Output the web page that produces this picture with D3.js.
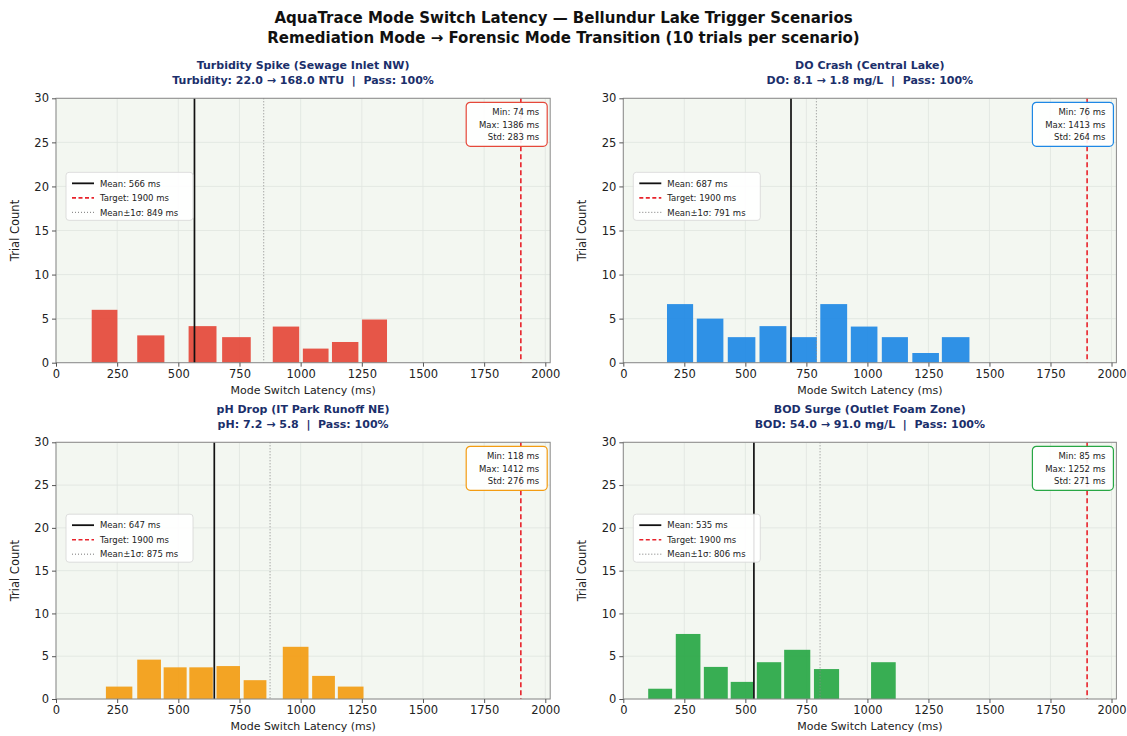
<!DOCTYPE html>
<html>
<head>
<meta charset="utf-8">
<script src="https://cdn.jsdelivr.net/npm/d3@7"></script>
<style>
  html, body { margin: 0; padding: 0; background: #fff; }
  svg { display: block; font-family: "DejaVu Sans", sans-serif; }
  svg text { white-space: pre; }
</style>
</head>
<body>
<svg id="fig" width="1127" height="736"></svg>
<script>
// ---- Data ----
const mainTitle = "AquaTrace Mode Switch Latency \u2014 Bellundur Lake Trigger Scenarios";
const mainSubtitle = "Remediation Mode \u2192 Forensic Mode Transition (10 trials per scenario)";

const scenarioNames = [
  "Turbidity Spike (Sewage Inlet NW)",
  "DO Crash (Central Lake)",
  "pH Drop (IT Park Runoff NE)",
  "BOD Surge (Outlet Foam Zone)"
];
const scenarioDetails = [
  "Turbidity: 22.0 \u2192 168.0 NTU  |  Pass: 100%",
  "DO: 8.1 \u2192 1.8 mg/L  |  Pass: 100%",
  "pH: 7.2 \u2192 5.8  |  Pass: 100%",
  "BOD: 54.0 \u2192 91.0 mg/L  |  Pass: 100%"
];
const scenarioColors = ["#e5483a", "#1e88e5", "#f39c12", "#28a745"];

// histogram bins (ms) and trial counts per scenario
const turbidityBinLo = [146, 332, 542, 679, 886, 1009, 1128, 1251];
const turbidityBinHi = [251, 443, 656, 796, 994, 1114, 1236, 1353];
const turbidityCounts = [6.0, 3.1, 4.15, 2.9, 4.1, 1.6, 2.35, 4.9];

const doBinLo = [179, 301, 428, 558, 683, 807, 932, 1059, 1184, 1305];
const doBinHi = [286, 410, 541, 668, 793, 917, 1041, 1166, 1293, 1418];
const doCounts = [6.65, 5.0, 2.9, 4.15, 2.9, 6.65, 4.1, 2.9, 1.1, 2.9];

const phBinLo = [204, 332, 440, 545, 656, 767, 927, 1047, 1152];
const phBinHi = [312, 429, 534, 641, 752, 860, 1032, 1140, 1257];
const phCounts = [1.45, 4.6, 3.7, 3.7, 3.85, 2.2, 6.1, 2.7, 1.45];

const bodBinLo = [102, 215, 330, 440, 547, 659, 781, 1015];
const bodBinHi = [200, 316, 428, 532, 647, 766, 884, 1116];
const bodCounts = [1.2, 7.6, 3.75, 2.0, 4.3, 5.75, 3.5, 4.3];

// summary statistics (ms)
const meanLatency = [566, 687, 647, 535];
const sigmaLatency = [849, 791, 875, 806];
const minLatency = [74, 76, 118, 85];
const maxLatency = [1386, 1413, 1412, 1252];
const stdLatency = [283, 264, 276, 271];
const targetLatency = 1900;

const xTicks = [0, 250, 500, 750, 1000, 1250, 1500, 1750, 2000];
const yTicks = [0, 5, 10, 15, 20, 25, 30];
const xDomain = [0, 2020];
const yDomain = [0, 30];

const binLo = [turbidityBinLo, doBinLo, phBinLo, bodBinLo];
const binHi = [turbidityBinHi, doBinHi, phBinHi, bodBinHi];
const binCounts = [turbidityCounts, doCounts, phCounts, bodCounts];

// ---- Layout ----
const panelBoxes = [
  { left: 56,    right: 550.2,  top: 98.3,  bottom: 362.7 },
  { left: 623.3, right: 1116.4, top: 98.3,  bottom: 362.7 },
  { left: 56,    right: 550.2,  top: 442.3, bottom: 699 },
  { left: 623.3, right: 1116.4, top: 442.3, bottom: 699 }
];

const svg = d3.select("#fig");

svg.append("text")
  .attr("x", 563.5).attr("y", 23)
  .attr("text-anchor", "middle")
  .attr("font-size", 15).attr("font-weight", "bold").attr("fill", "#111")
  .text(mainTitle);
svg.append("text")
  .attr("x", 563.5).attr("y", 43)
  .attr("text-anchor", "middle")
  .attr("font-size", 15).attr("font-weight", "bold").attr("fill", "#111")
  .text(mainSubtitle);

panelBoxes.forEach((box, i) => {
  const x = d3.scaleLinear().domain(xDomain).range([box.left, box.right]);
  const y = d3.scaleLinear().domain(yDomain).range([box.bottom, box.top]);
  const g = svg.append("g");
  const cx = (box.left + box.right) / 2;
  const color = scenarioColors[i];

  // panel titles
  g.append("text").attr("x", cx).attr("y", box.top - 29)
    .attr("text-anchor", "middle").attr("font-size", 11).attr("font-weight", "bold")
    .attr("fill", "#1b2f6b").text(scenarioNames[i]);
  g.append("text").attr("x", cx).attr("y", box.top - 14)
    .attr("text-anchor", "middle").attr("font-size", 11).attr("font-weight", "bold")
    .attr("fill", "#1b2f6b").text(scenarioDetails[i]);

  // plot background
  g.append("rect")
    .attr("x", box.left).attr("y", box.top)
    .attr("width", box.right - box.left).attr("height", box.bottom - box.top)
    .attr("fill", "#f3f7f1");

  // grid
  g.append("g").selectAll("line").data(xTicks).join("line")
    .attr("x1", d => x(d)).attr("x2", d => x(d))
    .attr("y1", box.top).attr("y2", box.bottom)
    .attr("stroke", "#dfe4df").attr("stroke-width", 0.8);
  g.append("g").selectAll("line").data(yTicks).join("line")
    .attr("x1", box.left).attr("x2", box.right)
    .attr("y1", d => y(d)).attr("y2", d => y(d))
    .attr("stroke", "#dfe4df").attr("stroke-width", 0.8);

  // histogram bars
  const bins = binCounts[i].map((c, k) => ({ lo: binLo[i][k], hi: binHi[i][k], count: c }));
  g.append("g").selectAll("rect").data(bins).join("rect")
    .attr("x", d => x(d.lo))
    .attr("width", d => x(d.hi) - x(d.lo))
    .attr("y", d => y(d.count))
    .attr("height", d => y(0) - y(d.count))
    .attr("fill", color).attr("fill-opacity", 0.92);

  // reference lines
  g.append("line")
    .attr("x1", x(meanLatency[i])).attr("x2", x(meanLatency[i]))
    .attr("y1", box.top).attr("y2", box.bottom)
    .attr("stroke", "#111").attr("stroke-width", 1.7);
  g.append("line")
    .attr("x1", x(targetLatency)).attr("x2", x(targetLatency))
    .attr("y1", box.top).attr("y2", box.bottom)
    .attr("stroke", "#e8232b").attr("stroke-width", 1.6)
    .attr("stroke-dasharray", "5,3");
  g.append("line")
    .attr("x1", x(sigmaLatency[i])).attr("x2", x(sigmaLatency[i]))
    .attr("y1", box.top).attr("y2", box.bottom)
    .attr("stroke", "#888").attr("stroke-width", 1)
    .attr("stroke-dasharray", "1,2");

  // spines
  g.append("rect")
    .attr("x", box.left).attr("y", box.top)
    .attr("width", box.right - box.left).attr("height", box.bottom - box.top)
    .attr("fill", "none").attr("stroke", "#8a8a8a").attr("stroke-width", 1);

  // axes
  const xAxis = g.append("g").attr("transform", `translate(0,${box.bottom})`)
    .call(d3.axisBottom(x).tickValues(xTicks).tickSize(4).tickPadding(3).tickFormat(d3.format("d")));
  const yAxis = g.append("g").attr("transform", `translate(${box.left},0)`)
    .call(d3.axisLeft(y).tickValues(yTicks).tickSize(4).tickPadding(3).tickFormat(d3.format("d")));
  [xAxis, yAxis].forEach(a => {
    a.select(".domain").remove();
    a.selectAll(".tick line").attr("stroke", "#555");
    a.selectAll(".tick text").attr("font-size", 11.5).attr("fill", "#222")
      .attr("font-family", "DejaVu Sans, sans-serif");
  });

  // axis labels
  g.append("text").attr("x", cx).attr("y", box.bottom + 31)
    .attr("text-anchor", "middle").attr("font-size", 11).attr("fill", "#222")
    .text("Mode Switch Latency (ms)");
  g.append("text")
    .attr("transform", `translate(${box.left - 37},${(box.top + box.bottom) / 2}) rotate(-90)`)
    .attr("text-anchor", "middle").attr("font-size", 11.5).attr("fill", "#222")
    .text("Trial Count");

  // legend
  const lgX = box.left + 10;
  const lgY = box.top + 0.28 * (box.bottom - box.top);
  const lg = g.append("g").attr("transform", `translate(${lgX},${lgY})`);
  lg.append("rect").attr("width", 127).attr("height", 48).attr("rx", 3)
    .attr("fill", "#fff").attr("fill-opacity", 0.9)
    .attr("stroke", "#d6d6d6").attr("stroke-width", 0.8);
  const legendItems = [
    { label: `Mean: ${meanLatency[i]} ms`, stroke: "#111", dash: null, w: 1.8 },
    { label: `Target: ${targetLatency} ms`, stroke: "#e8232b", dash: "4,2.5", w: 1.6 },
    { label: `Mean\u00b11\u03c3: ${sigmaLatency[i]} ms`, stroke: "#777", dash: "1,2", w: 1 }
  ];
  legendItems.forEach((it, k) => {
    const ly = 11 + k * 14.5;
    lg.append("line").attr("x1", 6).attr("x2", 28).attr("y1", ly).attr("y2", ly)
      .attr("stroke", it.stroke).attr("stroke-width", it.w)
      .attr("stroke-dasharray", it.dash);
    lg.append("text").attr("x", 34).attr("y", ly + 3.2)
      .attr("font-size", 8.5).attr("fill", "#222").text(it.label);
  });

  // statistics box
  const sbW = 81, sbH = 44;
  const sb = g.append("g").attr("transform", `translate(${box.right - 3 - sbW},${box.top + 4})`);
  sb.append("rect").attr("width", sbW).attr("height", sbH).attr("rx", 4)
    .attr("fill", "#fff").attr("fill-opacity", 0.9)
    .attr("stroke", color).attr("stroke-width", 1.2);
  const statLines = [
    `Min: ${minLatency[i]} ms`,
    `Max: ${maxLatency[i]} ms`,
    `Std: ${stdLatency[i]} ms`
  ];
  statLines.forEach((t, k) => {
    sb.append("text").attr("x", sbW - 8).attr("y", 13 + k * 12.5)
      .attr("text-anchor", "end").attr("font-size", 8.5).attr("fill", "#222").text(t);
  });
});
</script>
</body>
</html>
